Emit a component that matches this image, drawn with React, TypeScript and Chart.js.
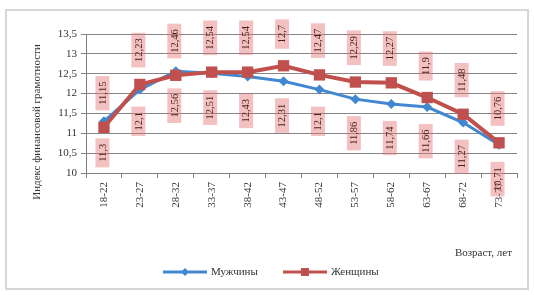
import { useEffect, useRef } from 'react';
import { Chart, registerables } from 'chart.js';

Chart.register(...registerables);

const categories = ['18-22', '23-27', '28-32', '33-37', '38-42', '43-47', '48-52', '53-57', '58-62', '63-67', '68-72', '73-77'];
const menValues = [11.3, 12.1, 12.56, 12.51, 12.43, 12.31, 12.1, 11.86, 11.74, 11.66, 11.27, 10.71];
const womenValues = [11.15, 12.23, 12.46, 12.54, 12.54, 12.7, 12.47, 12.29, 12.27, 11.9, 11.48, 10.76];
const seriesNames = ['Мужчины', 'Женщины'];
const yTitle = 'Индекс финансовой грамотности';
const xTitle = 'Возраст, лет';
const yMin = 10;
const yMax = 13.5;
const yStep = 0.5;

const FONT = '"Liberation Serif", "Times New Roman", serif';
const BLUE = '#4288d0';
const RED = '#c0504d';

const fmt = (v: number) => String(Math.round(v * 100) / 100).replace('.', ',');

const decorPlugin = {
  id: 'decor',
  beforeDraw(chart: any) {
    const ctx = chart.ctx;
    ctx.save();
    ctx.fillStyle = '#ffffff';
    ctx.fillRect(0, 0, chart.width, chart.height);
    ctx.strokeStyle = '#d6d6d6';
    ctx.lineWidth = 2;
    ctx.strokeRect(6, 10, 522, 279);
    ctx.restore();
  },
  afterDatasetsDraw(chart: any) {
    const ctx = chart.ctx;
    const drawLabel = (x: number, y: number, text: string, above: boolean) => {
      ctx.save();
      ctx.font = `10.5px ${FONT}`;
      const tw = ctx.measureText(text).width;
      const h = tw + 11;
      const w = 14;
      const gap = 17;
      const top = above ? y - gap - h : y + gap;
      const cx = x - 1.5;
      ctx.fillStyle = 'rgba(228,118,118,0.45)';
      ctx.fillRect(cx - w / 2, top, w, h);
      ctx.translate(cx, top + h / 2);
      ctx.rotate(-Math.PI / 2);
      ctx.fillStyle = '#4a1c1c';
      ctx.textAlign = 'center';
      ctx.textBaseline = 'middle';
      ctx.fillText(text, 0, 0.5);
      ctx.restore();
    };
    chart.data.datasets.forEach((ds: any, i: number) => {
      const meta = chart.getDatasetMeta(i);
      const above = i === 1;
      meta.data.forEach((pt: any, j: number) => {
        drawLabel(pt.x, pt.y, fmt(ds.data[j]), above);
      });
    });
  },
  afterDraw(chart: any) {
    const ctx = chart.ctx;
    ctx.save();
    ctx.fillStyle = '#333333';
    ctx.font = `11px ${FONT}`;
    // y title
    ctx.save();
    ctx.translate(37, 122);
    ctx.rotate(-Math.PI / 2);
    ctx.textAlign = 'center';
    ctx.textBaseline = 'middle';
    ctx.fillText(yTitle, 0, 0);
    ctx.restore();
    // x title
    ctx.textAlign = 'right';
    ctx.textBaseline = 'middle';
    ctx.fillText(xTitle, 512, 253);
    // legend
    const ly = 272;
    ctx.lineWidth = 3;
    ctx.strokeStyle = BLUE;
    ctx.beginPath();
    ctx.moveTo(163, ly);
    ctx.lineTo(207, ly);
    ctx.stroke();
    ctx.fillStyle = BLUE;
    ctx.beginPath();
    ctx.moveTo(185 - 4, ly);
    ctx.lineTo(185, ly - 4);
    ctx.lineTo(185 + 4, ly);
    ctx.lineTo(185, ly + 4);
    ctx.closePath();
    ctx.fill();
    ctx.strokeStyle = RED;
    ctx.beginPath();
    ctx.moveTo(283, ly);
    ctx.lineTo(327, ly);
    ctx.stroke();
    ctx.fillStyle = RED;
    ctx.fillRect(305 - 4, ly - 4, 8, 8);
    ctx.fillStyle = '#333333';
    ctx.textAlign = 'left';
    ctx.fillText(seriesNames[0], 211, ly);
    ctx.fillText(seriesNames[1], 331, ly);
    ctx.restore();
  },
};

export default function App() {
  const ref = useRef<HTMLCanvasElement | null>(null);
  useEffect(() => {
    if (!ref.current) return;
    const chart = new Chart(ref.current, {
      type: 'line',
      data: {
        labels: categories,
        datasets: [
          {
            label: seriesNames[0],
            data: menValues,
            borderColor: BLUE,
            backgroundColor: BLUE,
            borderWidth: 3,
            pointStyle: 'rectRot',
            pointRadius: 5,
            pointBorderWidth: 0,
            tension: 0,
            order: 2,
          },
          {
            label: seriesNames[1],
            data: womenValues,
            borderColor: RED,
            backgroundColor: RED,
            borderWidth: 4,
            pointStyle: 'rect',
            pointRadius: 8,
            pointBorderWidth: 0,
            tension: 0,
            order: 1,
          },
        ],
      },
      options: {
        responsive: false,
        animation: false,
        devicePixelRatio: 1,
        layout: { padding: { left: 0, top: 34, right: 17, bottom: 82 } },
        plugins: {
          legend: { display: false },
          tooltip: { enabled: false },
        },
        scales: {
          x: {
            type: 'category',
            offset: true,
            grid: {
              display: true,
              drawOnChartArea: false,
              drawTicks: true,
              tickLength: 5,
              color: '#808080',
              offset: true,
            },
            border: { color: '#808080', width: 1 },
            ticks: {
              minRotation: 90,
              maxRotation: 90,
              autoSkip: false,
              padding: 4,
              color: '#333333',
              font: { family: FONT, size: 11 },
            },
            afterFit: (s: any) => {
              s.height = 40;
            },
          },
          y: {
            min: yMin,
            max: yMax,
            ticks: {
              stepSize: yStep,
              padding: 4,
              color: '#333333',
              font: { family: FONT, size: 11 },
              callback: (v: any) => fmt(Number(v)),
            },
            grid: { color: '#858585', tickLength: 5 },
            border: { color: '#808080', width: 1 },
            afterFit: (s: any) => {
              s.width = 86;
            },
          },
        },
      },
      plugins: [decorPlugin],
    });
    return () => chart.destroy();
  }, []);
  return (
    <div style={{ position: 'fixed', left: 0, top: 0, width: 534, height: 295 }}>
      <canvas ref={ref} width={534} height={295} style={{ display: 'block', width: 534, height: 295 }} />
    </div>
  );
}
